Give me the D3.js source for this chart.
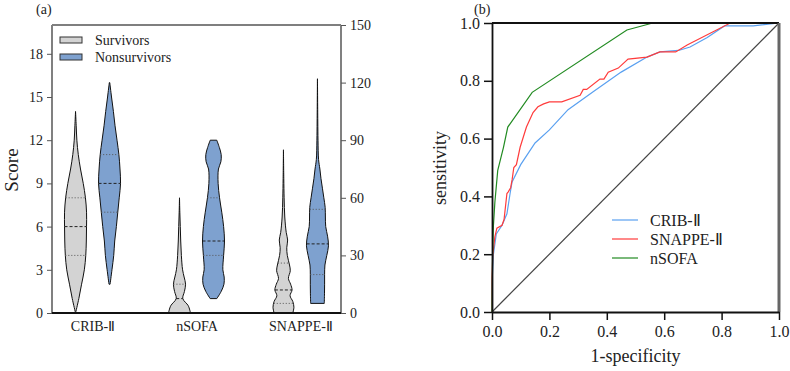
<!DOCTYPE html>
<html>
<head>
<meta charset="utf-8">
<script src="https://cdn.jsdelivr.net/npm/d3@7"></script>
<style>
  body { margin: 0; background: #fff; }
  text { font-family: "Liberation Serif", "Times New Roman", serif; fill: #222; }
</style>
</head>
<body>
<div id="chart"></div>
<script>
var categories = ["CRIB-Ⅱ", "nSOFA", "SNAPPE-Ⅱ"];
var groups = ["Survivors", "Nonsurvivors"];

// violin profiles: [score, relative half width]
var cribSurv = [[0,0],[1,0.3],[2,0.55],[3,0.8],[4,0.93],[5,0.98],[6,1],[7,1],[8,0.9],[9,0.7],[10,0.45],[11,0.25],[12,0.12],[13,0.06],[14,0]];
var cribNon = [[2,0.05],[3,0.22],[4,0.38],[5,0.47],[6,0.62],[7,0.75],[8,0.88],[9,1],[10,0.95],[11,0.85],[12,0.68],[13,0.5],[14,0.35],[15,0.18],[16,0.02]];
var nsofaSurv = [[0,1],[0.5,0.8],[1,0.3],[1.5,0.45],[2,0.55],[2.5,0.42],[3,0.28],[4,0.17],[5,0.11],[6,0.07],[7,0.03],[8,0]];
var nsofaNon = [[1,0.3],[1.5,0.7],[2,0.95],[2.5,0.97],[3,0.85],[4,0.92],[5,1],[6,0.92],[7,0.75],[8,0.55],[9,0.42],[10,0.45],[10.5,0.67],[11,0.7],[11.5,0.53],[12,0.3]];
var snappeSurv = [[0,0.85],[3,0.95],[6,0.85],[9,0.6],[12,0.78],[15,0.65],[18,0.45],[22,0.62],[25,0.55],[30,0.35],[34,0.3],[38,0.38],[42,0.25],[50,0.12],[60,0.06],[70,0.03],[85,0]];
var snappeNon = [[5,0.62],[10,0.64],[15,0.65],[20,0.65],[25,0.68],[30,0.85],[35,1],[40,0.92],[45,0.75],[50,0.72],[55,0.7],[60,0.58],[65,0.45],[70,0.32],[75,0.22],[80,0.1],[90,0.05],[100,0.03],[122,0]];

var medians = [[6, 9], [1, 5], [12, 36]];
var lowerQ = [[4, 7], [0, 4], [5, 20]];
var upperQ = [[8, 11], [2, 8], [26, 54]];

var leftTicks = [0, 3, 6, 9, 12, 15, 18];
var rightTicks = [0, 30, 60, 90, 120, 150];

// ROC curves
var cribFpr = [0, 0, 0.005, 0.015, 0.035, 0.052, 0.063, 0.07, 0.1, 0.15, 0.2, 0.265, 0.35, 0.45, 0.54, 0.585, 0.65, 0.69, 0.75, 0.81, 0.91, 1];
var cribTpr = [0, 0.1, 0.2, 0.27, 0.3, 0.34, 0.41, 0.45, 0.51, 0.585, 0.63, 0.7, 0.76, 0.83, 0.882, 0.9, 0.905, 0.917, 0.95, 0.99, 0.99, 1];
var snappeFpr = [0, 0, 0.003, 0.01, 0.017, 0.035, 0.042, 0.052, 0.056, 0.065, 0.07, 0.076, 0.085, 0.098, 0.12, 0.143, 0.16, 0.18, 0.2, 0.243, 0.307, 0.318, 0.33, 0.376, 0.39, 0.405, 0.44, 0.474, 0.54, 0.585, 0.64, 0.68, 0.83, 1];
var snappeTpr = [0, 0.12, 0.2, 0.26, 0.29, 0.3, 0.32, 0.41, 0.415, 0.43, 0.457, 0.5, 0.51, 0.57, 0.64, 0.69, 0.71, 0.72, 0.727, 0.727, 0.75, 0.77, 0.77, 0.806, 0.806, 0.83, 0.844, 0.875, 0.882, 0.9, 0.9, 0.924, 1, 1];
var nsofaFpr = [0, 0.002, 0.005, 0.01, 0.02, 0.04, 0.055, 0.14, 0.47, 0.56, 1];
var nsofaTpr = [0, 0.2, 0.3, 0.38, 0.49, 0.57, 0.64, 0.76, 0.976, 1, 1];
var rocNames = ["CRIB-Ⅱ", "SNAPPE-Ⅱ", "nSOFA"];
var rocTicks = [0, 0.2, 0.4, 0.6, 0.8, 1.0];

function init(){
	var w = 790, h = 371;
	var svg = d3.select("#chart").append("svg").attr("width", w).attr("height", h);

	// ---------- panel (a) ----------
	var aL = 52, aR = 341, aT = 25, aB = 313;
	var x = d3.scalePoint().domain(categories).range([aL, aR]).padding(0.39);
	var yL = d3.scaleLinear().domain([0, 20]).range([aB, aT]);
	var yR = d3.scaleLinear().domain([0, 150]).range([aB, aT]);
	var offset = d3.scalePoint().domain(groups).range([-17, 17]);
	var fills = ["#d3d3d3", "#7ea1cf"];
	var maxHalf = 11;

	var violins = [
		{cat: 0, g: 0, prof: cribSurv, y: yL},
		{cat: 0, g: 1, prof: cribNon, y: yL},
		{cat: 1, g: 0, prof: nsofaSurv, y: yL},
		{cat: 1, g: 1, prof: nsofaNon, y: yL},
		{cat: 2, g: 0, prof: snappeSurv, y: yR},
		{cat: 2, g: 1, prof: snappeNon, y: yR}
	];

	violins.forEach(function(v){
		var cx = x(categories[v.cat]) + offset(groups[v.g]);
		var area = d3.area()
			.y(function(d){ return v.y(d[0]); })
			.x0(function(d){ return cx - d[1] * maxHalf; })
			.x1(function(d){ return cx + d[1] * maxHalf; })
			.curve(d3.curveCatmullRom);
		svg.append("path")
			.datum(v.prof)
			.attr("d", area)
			.attr("fill", fills[v.g])
			.attr("stroke", "#111")
			.attr("stroke-width", 1);

		// width at a given score
		var wAt = d3.scaleLinear().domain(v.prof.map(function(d){ return d[0]; }))
			.range(v.prof.map(function(d){ return d[1] * maxHalf; }));
		var lines = [
			{val: medians[v.cat][v.g], dash: "3,2", col: "#222"},
			{val: lowerQ[v.cat][v.g], dash: "1,2", col: "#555"},
			{val: upperQ[v.cat][v.g], dash: "1,2", col: "#555"}
		];
		lines.forEach(function(l){
			var hw = wAt(l.val);
			svg.append("line")
				.attr("x1", cx - hw).attr("x2", cx + hw)
				.attr("y1", v.y(l.val)).attr("y2", v.y(l.val))
				.attr("stroke", l.col)
				.attr("stroke-width", 1)
				.attr("stroke-dasharray", l.dash);
		});
	});

	// frame lines
	svg.append("line").attr("x1", aL).attr("x2", aR).attr("y1", aT).attr("y2", aT)
		.attr("stroke", "#555").attr("stroke-width", 1.5);

	var axL = svg.append("g").attr("transform", "translate(" + aL + ",0)")
		.call(d3.axisLeft(yL).tickValues(leftTicks).tickSize(5).tickSizeOuter(0));
	axL.select(".domain").attr("stroke", "#808080").attr("stroke-width", 2).attr("d", "M0," + aB + "V" + aT);
	axL.selectAll(".tick line").attr("stroke", "#555");
	axL.selectAll(".tick text").attr("font-size", 14).attr("x", -9);

	var axR = svg.append("g").attr("transform", "translate(" + aR + ",0)")
		.call(d3.axisRight(yR).tickValues(rightTicks).tickSize(5).tickSizeOuter(0));
	axR.select(".domain").attr("stroke", "#808080").attr("stroke-width", 2).attr("d", "M0," + aB + "V" + aT);
	axR.selectAll(".tick line").attr("stroke", "#555");
	axR.selectAll(".tick text").attr("font-size", 14).attr("x", 9);

	var axB = svg.append("g").attr("transform", "translate(0," + aB + ")")
		.call(d3.axisBottom(x).tickSize(0).tickSizeOuter(0));
	axB.select(".domain").attr("stroke", "#111").attr("stroke-width", 2).attr("d", "M" + aL + ",0H" + aR);
	axB.selectAll(".tick text").attr("font-size", 14).attr("dy", 0).attr("y", 18);

	svg.selectAll(".tick text").style("font-family", "'Liberation Serif', 'Times New Roman', serif").attr("fill", "#222");

	svg.append("text").attr("x", 36).attr("y", 14).attr("font-size", 14).text("(a)");
	svg.append("text")
		.attr("transform", "translate(18,170) rotate(-90)")
		.attr("text-anchor", "middle")
		.attr("font-size", 19)
		.text("Score");

	// legend (a)
	groups.forEach(function(g, i){
		svg.append("rect")
			.attr("x", 60).attr("y", 37 + i * 17).attr("width", 22).attr("height", 6)
			.attr("fill", fills[i]).attr("stroke", "#333").attr("stroke-width", 1);
		svg.append("text").attr("x", 95).attr("y", 45 + i * 17).attr("font-size", 14).text(g);
	});

	// ---------- panel (b) ----------
	var bL = 492, bR = 779, bT = 23, bB = 312;
	var rx = d3.scaleLinear().domain([0, 1]).range([bL, bR]);
	var ry = d3.scaleLinear().domain([0, 1]).range([bB, bT]);

	svg.append("line").attr("x1", rx(0)).attr("y1", ry(0)).attr("x2", rx(1)).attr("y2", ry(1))
		.attr("stroke", "#444").attr("stroke-width", 1.2);

	var rocColors = ["#5aa0f0", "#ff3b3b", "#228b22"];
	var rocData = [
		d3.zip(cribFpr, cribTpr),
		d3.zip(snappeFpr, snappeTpr),
		d3.zip(nsofaFpr, nsofaTpr)
	];
	var line = d3.line().x(function(d){ return rx(d[0]); }).y(function(d){ return ry(d[1]); });
	rocData.forEach(function(d, i){
		svg.append("path").datum(d).attr("d", line)
			.attr("fill", "none").attr("stroke", rocColors[i]).attr("stroke-width", 1.2);
	});

	svg.append("line").attr("x1", bL).attr("x2", bR).attr("y1", bT).attr("y2", bT)
		.attr("stroke", "#111").attr("stroke-width", 2);
	svg.append("line").attr("x1", bR).attr("x2", bR).attr("y1", bT).attr("y2", bB)
		.attr("stroke", "#666").attr("stroke-width", 3);

	var bx = svg.append("g").attr("transform", "translate(0," + bB + ")")
		.call(d3.axisBottom(rx).tickValues(rocTicks).tickFormat(d3.format(".1f")).tickSize(8).tickSizeOuter(0));
	bx.select(".domain").attr("stroke", "#111").attr("stroke-width", 1.8);
	bx.selectAll(".tick line").attr("stroke", "#111").attr("stroke-width", 1.5);
	bx.selectAll(".tick text").attr("font-size", 16).attr("y", 14);

	var by = svg.append("g").attr("transform", "translate(" + bL + ",0)")
		.call(d3.axisLeft(ry).tickValues(rocTicks).tickFormat(d3.format(".1f")).tickSize(8).tickSizeOuter(0));
	by.select(".domain").attr("stroke", "#111").attr("stroke-width", 1.8);
	by.selectAll(".tick line").attr("stroke", "#111").attr("stroke-width", 1.5);
	by.selectAll(".tick text").attr("font-size", 16).attr("x", -12);

	svg.selectAll(".tick text").style("font-family", "'Liberation Serif', 'Times New Roman', serif").attr("fill", "#222");

	svg.append("text").attr("x", 474).attr("y", 14).attr("font-size", 14).text("(b)");
	svg.append("text").attr("x", rx(0.5)).attr("y", 362).attr("text-anchor", "middle")
		.attr("font-size", 18).text("1-specificity");
	svg.append("text")
		.attr("transform", "translate(446,168) rotate(-90)")
		.attr("text-anchor", "middle")
		.attr("font-size", 18)
		.text("sensitivity");

	// legend (b)
	rocNames.forEach(function(n, i){
		var yy = 220 + i * 19;
		svg.append("line").attr("x1", 612).attr("x2", 638).attr("y1", yy).attr("y2", yy)
			.attr("stroke", rocColors[i]).attr("stroke-width", 1.2);
		svg.append("text").attr("x", 650).attr("y", yy + 6).attr("font-size", 16).text(n);
	});
}

window.onload = init;
</script>
</body>
</html>
